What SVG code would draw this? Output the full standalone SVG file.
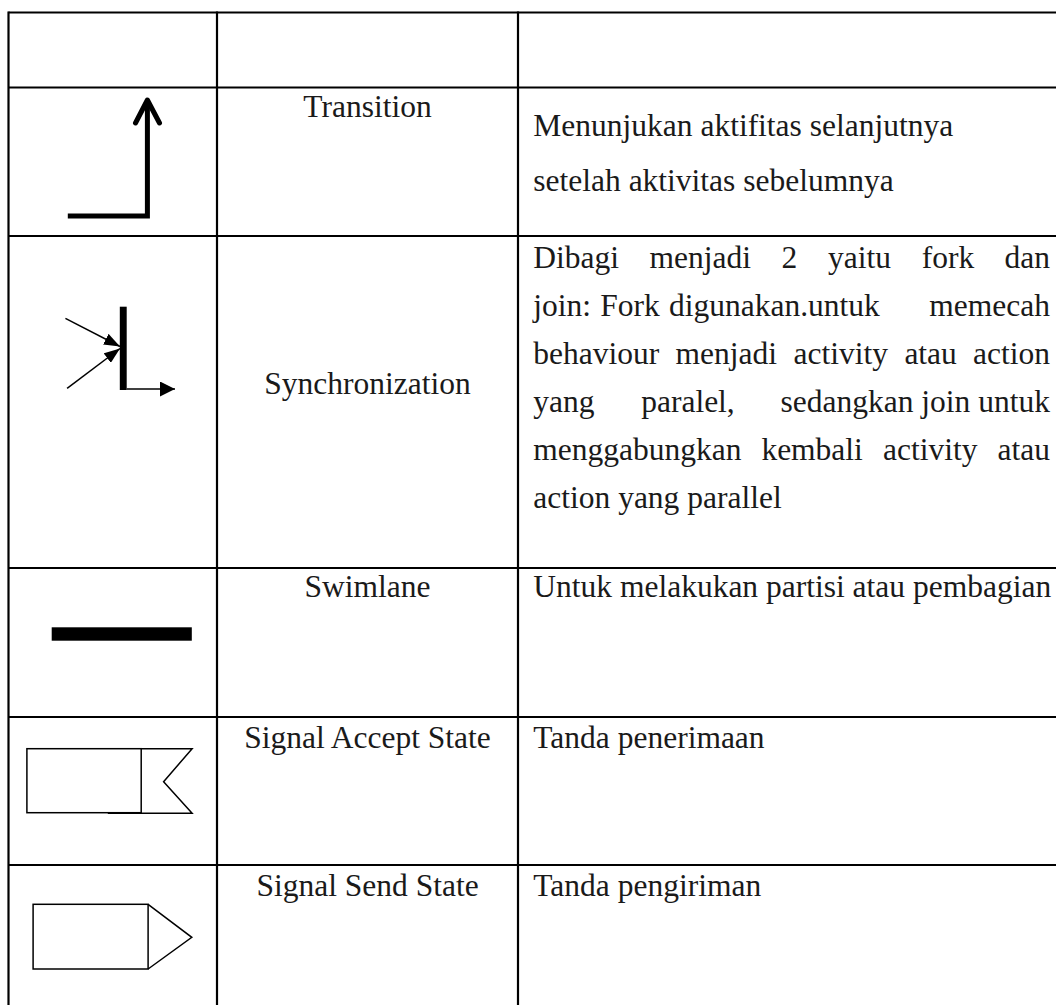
<svg xmlns="http://www.w3.org/2000/svg" width="1056" height="1005" viewBox="0 0 1056 1005">
<defs>
<style>
.t{font-family:"Liberation Serif","Times New Roman",serif;font-size:31.5px;fill:#1a1a1a}
.c{text-anchor:middle}
.e{text-anchor:end}
#grid line{stroke:#000;stroke-width:2.2}
.thin{fill:none;stroke:#000;stroke-width:1.5}
.thick{fill:none;stroke:#000;stroke-width:5}
</style>
<marker id="ah" markerUnits="userSpaceOnUse" markerWidth="16" markerHeight="12" refX="16" refY="6" orient="auto"><path d="M0,0 L16,6 L0,12 z" fill="#000"/></marker>
<marker id="ah2" markerUnits="userSpaceOnUse" markerWidth="15" markerHeight="15" refX="15" refY="7.5" orient="auto"><path d="M0,0 L15,7.5 L0,15 z" fill="#000"/></marker>
</defs>
<rect width="1056" height="1005" fill="#fff"/>
<g id="grid">
<line x1="8.5" y1="12.5" x2="1056" y2="12.5"/>
<line x1="8.5" y1="87.5" x2="1056" y2="87.5"/>
<line x1="8.5" y1="236" x2="1056" y2="236"/>
<line x1="8.5" y1="568" x2="1056" y2="568"/>
<line x1="8.5" y1="717" x2="1056" y2="717"/>
<line x1="8.5" y1="865" x2="1056" y2="865"/>
<line x1="8.5" y1="11.4" x2="8.5" y2="1005"/>
<line x1="217" y1="11.4" x2="217" y2="1005"/>
<line x1="518" y1="11.4" x2="518" y2="1005"/>
</g>
<g id="transition">
<path class="thick" d="M67.8,216 H147.4 V101"/>
<path class="thick" d="M135.5,123 L147.4,100 L159.5,123" stroke-linecap="round" stroke-linejoin="round"/>
<text class="t c" x="367.5" y="117">Transition</text>
<text class="t" x="533.3" y="136">Menunjukan aktifitas selanjutnya</text>
<text class="t" x="533.3" y="191">setelah aktivitas sebelumnya</text>
</g>
<g id="synchronization">
<rect x="119.8" y="306.7" width="6.9" height="83.3" fill="#000"/>
<text class="t c" x="367.5" y="394.3">Synchronization</text>
<text class="t" y="268"><tspan x="533.3">Dibagi</tspan><tspan x="649.6">menjadi</tspan><tspan x="781.6">2</tspan><tspan x="828.1">yaitu</tspan><tspan x="921.7">fork</tspan><tspan x="1050" text-anchor="end">dan</tspan></text>
<text class="t" y="316"><tspan x="533.3">join:</tspan><tspan x="600.3">Fork</tspan><tspan x="669">digunakan.untuk</tspan><tspan x="1050" text-anchor="end">memecah</tspan></text>
<text class="t" y="364"><tspan x="533.3">behaviour</tspan><tspan x="675.6">menjadi</tspan><tspan x="793.5">activity</tspan><tspan x="904.4">atau</tspan><tspan x="1050" text-anchor="end">action</tspan></text>
<text class="t" y="412"><tspan x="533.3">yang</tspan><tspan x="641.2">paralel,</tspan><tspan x="1050" text-anchor="end">sedangkan join untuk</tspan></text>
<text class="t" y="460"><tspan x="533.3">menggabungkan</tspan><tspan x="761.4">kembali</tspan><tspan x="883.1">activity</tspan><tspan x="1050" text-anchor="end">atau</tspan></text>
<text class="t" x="533.3" y="508">action yang parallel</text>
</g>
<g id="swimlane">
<rect x="51.7" y="627.3" width="140.1" height="13.4" fill="#000"/>
<text class="t c" x="367.5" y="597">Swimlane</text>
<text class="t" x="533.3" y="597">Untuk melakukan partisi atau pembagian</text>
</g>
<g id="signal-accept">
<rect class="thin" x="26.9" y="748.7" width="114.3" height="64"/>
<polyline class="thin" points="107.8,813.3 192.1,813.3 163.6,781.7 192.1,748.7 141.2,748.7"/>
<text class="t c" x="367.5" y="748">Signal Accept State</text>
<text class="t" x="533.3" y="748">Tanda penerimaan</text>
</g>
<g id="signal-send">
<rect class="thin" x="33.1" y="904.3" width="115" height="64.7"/>
<polyline class="thin" points="148.1,904.3 191.8,937.3 148.1,969"/>
<text class="t c" x="367.5" y="896">Signal Send State</text>
<text class="t" x="533.3" y="896">Tanda pengiriman</text>
</g>
<g id="connectors">
<line class="thin" x1="65.4" y1="318.3" x2="120" y2="346.5" marker-end="url(#ah)"/>
<line class="thin" x1="67.1" y1="388.3" x2="120" y2="348.5" marker-end="url(#ah)"/>
<line class="thin" x1="126.7" y1="389" x2="175" y2="389" marker-end="url(#ah2)"/>
</g>
</svg>
